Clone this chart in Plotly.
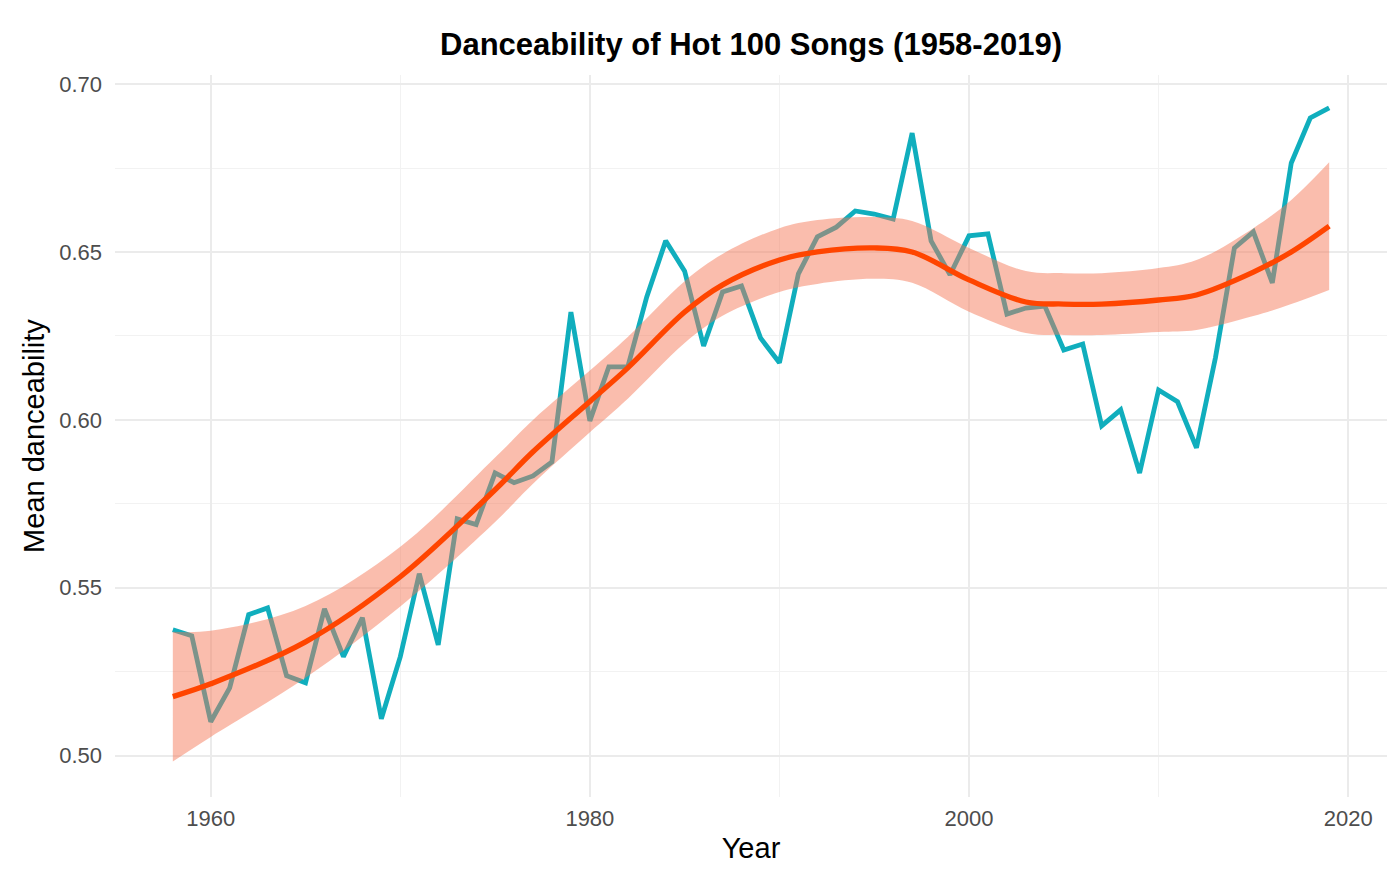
import plotly.graph_objects as go

# ---- data ----
years = list(range(1958, 2020))
danceability = [
    0.5375, 0.5357, 0.5101, 0.5202, 0.5420, 0.5440, 0.5238, 0.5217, 0.5437, 0.5295,
    0.5411, 0.5110, 0.5295, 0.5542, 0.5330, 0.5705, 0.5688, 0.5842, 0.5813, 0.5833,
    0.5875, 0.6321, 0.5997, 0.6158, 0.6158, 0.6366, 0.6533, 0.6443, 0.6220, 0.6381,
    0.6399, 0.6244, 0.6170, 0.6435, 0.6545, 0.6574, 0.6622, 0.6613, 0.6598, 0.6854,
    0.6533, 0.6432, 0.6548, 0.6554, 0.6315, 0.6333, 0.6339, 0.6208, 0.6226, 0.5982,
    0.6030, 0.5842, 0.6089, 0.6054, 0.5917, 0.6185, 0.6512, 0.6560, 0.6408, 0.6765,
    0.6899, 0.6929,
]

smooth_years = [1958, 1960, 1965, 1970, 1975, 1977, 1980, 1982, 1985, 1987, 1990, 1992,
                1995, 1997, 2000, 2003, 2005, 2007, 2010, 2012, 2015, 2017, 2019]
smooth_fit = [0.5176, 0.5214, 0.5339, 0.5533, 0.5792, 0.5905, 0.6055, 0.6155, 0.6321,
              0.6402, 0.6476, 0.6500, 0.6512, 0.6500, 0.6417, 0.6351, 0.6345, 0.6345,
              0.6357, 0.6372, 0.6440, 0.6500, 0.6577]
smooth_upper = [0.5369, 0.5372, 0.5446, 0.5622, 0.5888, 0.6000, 0.6147, 0.6247, 0.6413,
                0.6494, 0.6571, 0.6595, 0.6604, 0.6592, 0.6512, 0.6443, 0.6437, 0.6437,
                0.6452, 0.6476, 0.6571, 0.6655, 0.6767]
smooth_lower = [0.4983, 0.5056, 0.5232, 0.5444, 0.5696, 0.5810, 0.5963, 0.6063, 0.6229,
                0.6310, 0.6381, 0.6405, 0.6420, 0.6408, 0.6322, 0.6259, 0.6253, 0.6253,
                0.6262, 0.6268, 0.6309, 0.6345, 0.6387]

x_ticks = [1960, 1980, 2000, 2020]
y_ticks = [0.50, 0.55, 0.60, 0.65, 0.70]

TEAL = "#10AEBD"
ORANGE = "#FF4500"
RIBBON = "rgba(244,118,84,0.48)"
FONT = "Liberation Sans, Arial, Helvetica, sans-serif"

fig = go.Figure()

fig.add_trace(go.Scatter(
    x=years, y=danceability, mode="lines",
    line=dict(color=TEAL, width=4.8), hoverinfo="x+y", showlegend=False,
))

fig.add_trace(go.Scatter(
    x=smooth_years, y=smooth_lower, mode="lines",
    line=dict(width=0, shape="spline", color="rgba(0,0,0,0)"),
    showlegend=False, hoverinfo="skip",
))
fig.add_trace(go.Scatter(
    x=smooth_years, y=smooth_upper, mode="lines",
    line=dict(width=0, shape="spline", color="rgba(0,0,0,0)"),
    fill="tonexty", fillcolor=RIBBON,
    showlegend=False, hoverinfo="skip",
))
fig.add_trace(go.Scatter(
    x=smooth_years, y=smooth_fit, mode="lines",
    line=dict(color=ORANGE, width=5.3, shape="spline"),
    showlegend=False,
))

fig.update_layout(
    width=1400, height=874,
    margin=dict(l=115, r=13, t=75, b=77),
    paper_bgcolor="white", plot_bgcolor="white",
    font=dict(family=FONT, color="#4D4D4D", size=22),
    title=dict(
        text="<b>Danceability of Hot 100 Songs (1958-2019)</b>",
        font=dict(family=FONT, size=31, color="black"),
        x=751 / 1400, xanchor="center", xref="container",
        y=1 - 44 / 874, yanchor="middle", yref="container",
    ),
    xaxis=dict(
        range=[1954.95, 2022.05],
        tickvals=x_ticks, ticktext=[str(v) for v in x_ticks],
        showgrid=True, gridcolor="#EBEBEB", gridwidth=1.6,
        minor=dict(dtick=10, tick0=1950, showgrid=True, gridcolor="#F2F2F2", gridwidth=0.9),
        zeroline=False, showline=False, ticks="",
        ticklabelstandoff=6,
        title=dict(text="Year", font=dict(family=FONT, size=29, color="black"), standoff=7),
        tickfont=dict(size=22, color="#4D4D4D"),
    ),
    yaxis=dict(
        range=[0.4877, 0.7027],
        tickvals=y_ticks, ticktext=[f"{v:.2f}" for v in y_ticks],
        showgrid=True, gridcolor="#EBEBEB", gridwidth=1.6,
        minor=dict(dtick=0.025, tick0=0.475, showgrid=True, gridcolor="#F2F2F2", gridwidth=0.9),
        zeroline=False, showline=False, ticks="",
        ticklabelstandoff=12,
        title=dict(text="Mean danceability", font=dict(family=FONT, size=29, color="black"), standoff=6),
        tickfont=dict(size=22, color="#4D4D4D"),
    ),
)

fig.write_html("out.html")
